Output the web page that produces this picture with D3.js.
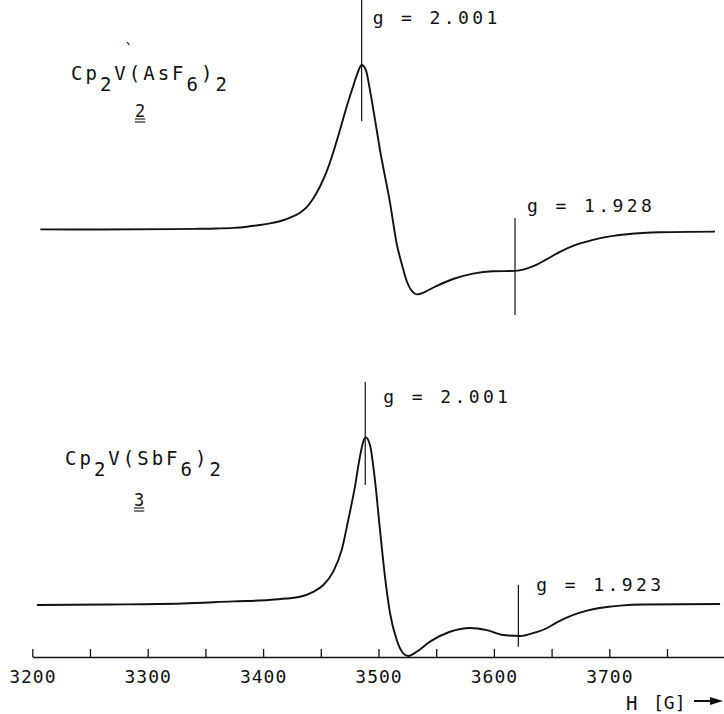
<!DOCTYPE html>
<html lang="en">
	<head>
		<meta charset="UTF-8" />
		<title>EPR spectra</title>
		<style>
			body { margin: 0; background: #fff; }
			text { font-family: 'DejaVu Sans Mono', monospace; fill: #111; }
		</style>
	</head>
	<body>
		<svg id="svg" width="724" height="714"></svg>

		<script src="https://d3js.org/d3.v7.min.js"></script>
		<script>
			// field axis
			const tickValues = d3.range(3200, 3751, 50);
			const tickLabels = ['3200', '3300', '3400', '3500', '3600', '3700'];

			// Cp2V(AsF6)2 (compound 2): H in G, intensity (arb.)
			const fieldAs = [3207, 3259, 3319, 3340, 3360, 3374, 3386, 3397, 3408, 3417.3, 3423.3, 3432, 3438, 3443.3, 3449.4, 3455.1, 3460.6, 3466.6, 3472.4, 3477.9, 3482.3, 3485.4, 3489, 3492.6, 3496, 3501.3, 3510, 3516, 3520.4, 3524.7, 3529, 3533.3, 3540, 3547.2, 3564.6, 3581.9, 3599, 3618.3, 3627, 3635.7, 3644.3, 3657.3, 3670.3, 3685.9, 3700.6, 3715.3, 3743.9, 3791.6];
			const signalAs = [0.4, 0.3, 0.5, 0.7, 0.95, 1.3, 2, 3, 4.3, 5.9, 7.5, 10.5, 14, 19, 26.5, 35.5, 46.7, 60.6, 74.7, 86.8, 96, 100, 97, 84.8, 71, 48.5, 16.4, -9.1, -21.2, -31.5, -37, -39, -37.6, -35, -29.7, -26.4, -25, -24.8, -23.7, -21.5, -18.3, -13.2, -9.2, -6, -3.9, -2.6, -1.4, -1];

			// Cp2V(SbF6)2 (compound 3)
			const fieldSb = [3204, 3267, 3330, 3374, 3405, 3420, 3432, 3443.5, 3452.2, 3460.8, 3468.1, 3473.8, 3479.6, 3483.9, 3487.4, 3488.9, 3492.6, 3496.9, 3501.3, 3505.6, 3510, 3515.8, 3521.5, 3525.8, 3533.1, 3544.6, 3561.9, 3579.2, 3593.8, 3607.9, 3622.6, 3634, 3645.8, 3653.8, 3663, 3674.6, 3685.9, 3698, 3709.3, 3729.3, 3796];
			const signalSb = [0, 0.3, 0.9, 2.2, 3, 3.9, 5, 8, 12.1, 20.2, 33.3, 51.5, 71.7, 89.9, 100.2, 101.6, 97, 75.8, 45.5, 17.2, -5, -21.2, -29.3, -30.9, -28.3, -22.2, -16.2, -13.9, -15.2, -18.2, -18.8, -17, -14.1, -10.8, -7.6, -4.6, -2.6, -1.2, -0.4, 0.3, 0.6];

			// g-value markers: field, intensity of line ends, label
			const markersAs = [
				{ field: 3485.4, from: 140, to: 66, label: 'g = 2.001' },
				{ field: 3618.3, from: 7.3, to: -51.5, label: 'g = 1.928' },
			];
			const markersSb = [
				{ field: 3488.5, from: 135.3, to: 72.7, label: 'g = 2.001' },
				{ field: 3621.2, from: 12.1, to: -25.3, label: 'g = 1.923' },
			];

			const formulaAs = [['Cp', false], ['2', true], ['V(AsF', false], ['6', true], [')', false], ['2', true]];
			const formulaSb = [['Cp', false], ['2', true], ['V(SbF', false], ['6', true], [')', false], ['2', true]];

			const svg = d3.select('#svg');

			const xScale = d3.scaleLinear().domain([3200, 3800]).range([32.3, 724.7]);
			const yTop = d3.scaleLinear().domain([0, 100]).range([230, 65]);
			const yBot = d3.scaleLinear().domain([0, 100]).range([605, 440]);

			const panels = [
				{ field: fieldAs, signal: signalAs, markers: markersAs, y: yTop, formula: formulaAs, number: '2',
					fx: 71, fy: 80, nx: 135, ny: 117, labelOff: [[11, 25], [12, -6]] },
				{ field: fieldSb, signal: signalSb, markers: markersSb, y: yBot, formula: formulaSb, number: '3',
					fx: 65, fy: 465, nx: 134, ny: 506, labelOff: [[18, 21], [18, 6]] },
			];

			panels.forEach((p) => {
				const pts = p.field.map((f, i) => [f, p.signal[i]]);
				const line = d3
					.line()
					.x((d) => xScale(d[0]))
					.y((d) => p.y(d[1]))
					.curve(d3.curveMonotoneX);

				svg
					.append('path')
					.attr('d', line(pts))
					.attr('fill', 'none')
					.attr('stroke', '#111')
					.attr('stroke-width', 1.9)
					.attr('stroke-linejoin', 'round');

				const m = svg.append('g').selectAll('g').data(p.markers).enter().append('g');
				m.append('line')
					.attr('x1', (d) => xScale(d.field))
					.attr('x2', (d) => xScale(d.field))
					.attr('y1', (d) => p.y(d.from))
					.attr('y2', (d) => p.y(d.to))
					.attr('stroke', '#111')
					.attr('stroke-width', 1.2);
				m.append('text')
					.text((d) => d.label)
					.attr('x', (d, i) => xScale(d.field) + p.labelOff[i][0])
					.attr('y', (d, i) => p.y(d.from) + p.labelOff[i][1])
					.style('font-size', '18px')
					.style('letter-spacing', '3.4px');

				// formula with subscripts
				const t = svg
					.append('text')
					.attr('x', p.fx)
					.attr('y', p.fy)
					.style('font-size', '19px')
					.style('letter-spacing', '3px');
				let sub = false;
				p.formula.forEach(([s, isSub]) => {
					t.append('tspan')
						.attr('dy', isSub === sub ? 0 : isSub ? 11 : -11)
						.text(s);
					sub = isSub;
				});

				// compound number, double underlined
				const num = svg
					.append('text')
					.attr('x', p.nx)
					.attr('y', p.ny)
					.style('font-size', '17px')
					.text(p.number);
				const bb = num.node().getBBox();
				[2, 5].forEach((off) => {
					svg.append('line')
						.attr('x1', bb.x)
						.attr('x2', bb.x + bb.width)
						.attr('y1', p.ny + off)
						.attr('y2', p.ny + off)
						.attr('stroke', '#111')
						.attr('stroke-width', 1.1);
				});
			});

			// stray mark above the first formula
			svg.append('text').attr('x', 124).attr('y', 55).style('font-size', '16px').text('`');

			// field axis, ticks pointing up
			const axis = d3
				.axisBottom(xScale)
				.tickValues(tickValues)
				.tickSizeInner(-8)
				.tickSizeOuter(0)
				.tickPadding(13)
				.tickFormat((d) => (tickLabels.includes(String(d)) ? String(d) : ''));

			const ax = svg.append('g').attr('transform', 'translate(0,657)').call(axis);
			ax.select('.domain').attr('stroke', '#111').attr('stroke-width', 1.6);
			ax.selectAll('.tick line').attr('stroke', '#111').attr('stroke-width', 1.3);
			ax.selectAll('.tick text')
				.attr('fill', '#111')
				.style('font-family', "'DejaVu Sans Mono', monospace")
				.style('font-size', '18px')
				.style('letter-spacing', '1px');

			// axis title with arrow
			svg.append('text').attr('x', 626).attr('y', 710).style('font-size', '19px').text('H');
			svg.append('text').attr('x', 653).attr('y', 709).style('font-size', '18px').text('[G]');
			svg.append('line')
				.attr('x1', 694).attr('x2', 712).attr('y1', 701).attr('y2', 701)
				.attr('stroke', '#111').attr('stroke-width', 2);
			svg.append('path')
				.attr('d', d3.line()([[710, 697], [723, 701], [710, 705]]))
				.attr('fill', '#111');
		</script>
	</body>
</html>
